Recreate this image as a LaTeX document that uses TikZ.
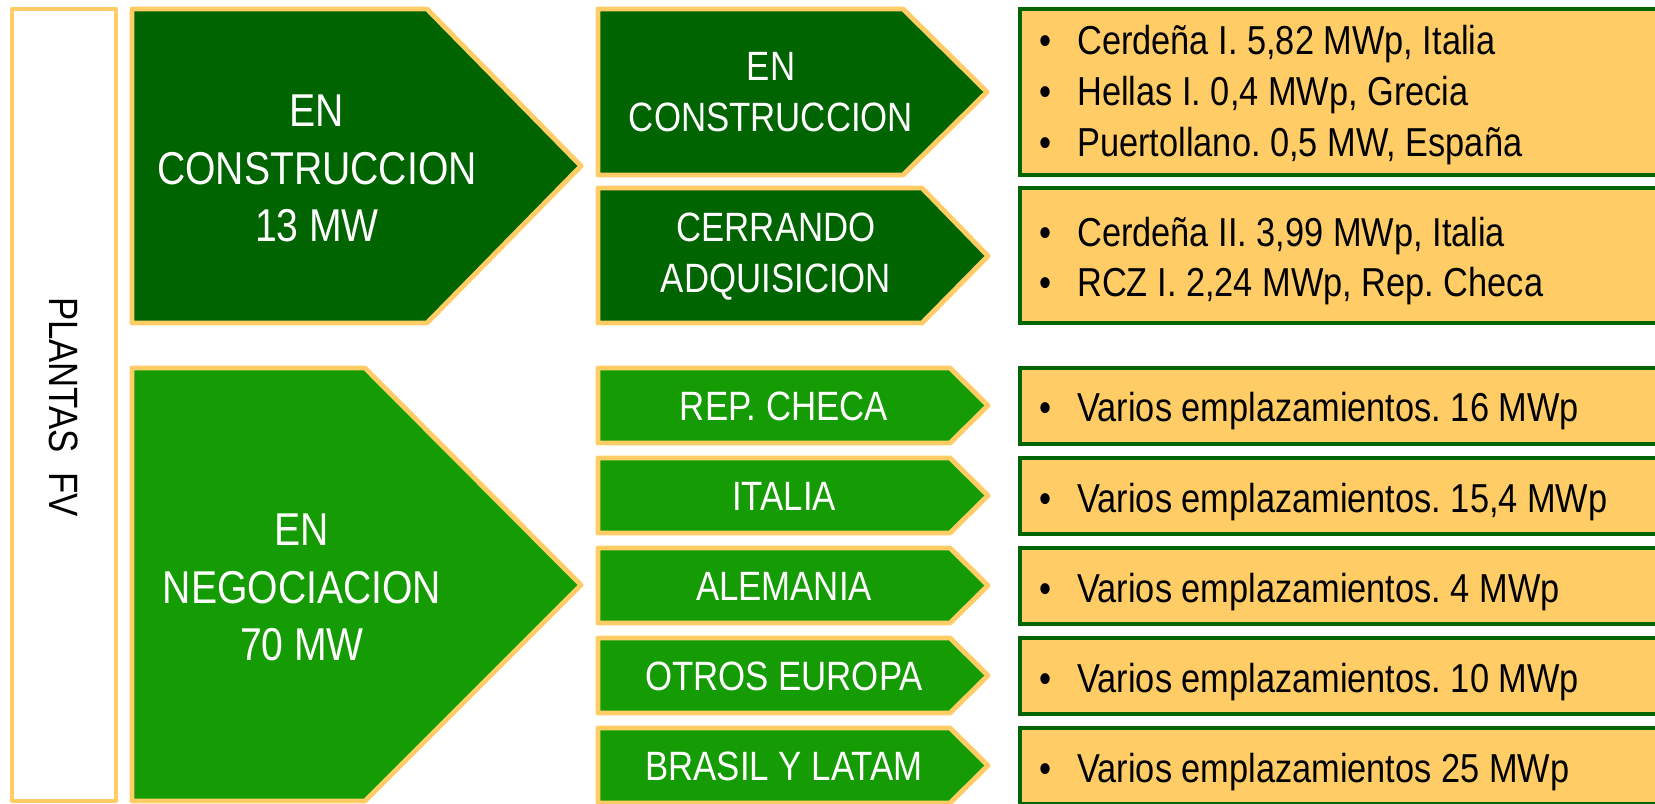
\documentclass[tikz,border=0pt]{standalone}
\usepackage{fontspec}
\setmainfont[FakeStretch=0.85]{Liberation Sans}
\definecolor{darkgreen}{RGB}{0,100,0}
\definecolor{leafgreen}{RGB}{21,156,4}
\definecolor{sand}{RGB}{255,204,102}
\newcommand{\itm}{\makebox[7.6mm][l]{\textbullet}}
\frenchspacing

\begin{document}
\begin{tikzpicture}[x=0.2mm,y=-0.2mm,
    rim/.style={draw=sand,line width=2.8pt,line join=round},
    listbox/.style={fill=sand,draw=darkgreen,line width=2.8pt},
    bigtxt/.style={text=white,align=center,inner sep=0pt,font=\fontsize{26.2}{32.7}\selectfont},
    smalltxt/.style={text=white,align=center,inner sep=0pt,font=\fontsize{23.3}{29}\selectfont},
    itemtxt/.style={anchor=base west,inner sep=0pt,font=\fontsize{23}{29}\selectfont}]
    \useasboundingbox (0,0) rectangle (1655,804);
    \clip (0,0) rectangle (1655,804);

    % left frame
    \draw[rim,fill=white] (12,9) rectangle (116,801);
    \node[rotate=-90,inner sep=0pt,font=\fontsize{23.3}{28}\selectfont] (plantas) at (64,407) {PLANTAS\ \ FV};

    % big arrows
    \filldraw[rim,fill=darkgreen] (132,9) -- (427,9) -- (581,166) -- (427,323) -- (132,323) -- cycle;
    \filldraw[rim,fill=leafgreen] (132,368) -- (365,368) -- (581,585) -- (365,801) -- (132,801) -- cycle;
    \node[bigtxt] (constr) at (317,168.5) {EN\\CONSTRUCCION\\13 MW};
    \node[bigtxt] (negoc) at (302,587.5) {EN\\NEGOCIACION\\70 MW};

    % small arrows, upper group
    \filldraw[rim,fill=darkgreen] (598,9) -- (903,9) -- (987,92) -- (903,175) -- (598,175) -- cycle;
    \filldraw[rim,fill=darkgreen] (598,188) -- (922,188) -- (988,256) -- (922,323) -- (598,323) -- cycle;
    \node[smalltxt] (obra) at (771,92.5) {EN\\CONSTRUCCION};
    \node[smalltxt] (cierre) at (776,257) {CERRANDO\\ADQUISICION};

    % small arrows, lower group
    \foreach \y/\name/\txt in {368/checa/REP. CHECA, 458/italia/ITALIA, 548/alemania/ALEMANIA,
                               638/otros/OTROS EUROPA, 728/latam/BRASIL Y LATAM}
    {
      \filldraw[rim,fill=leafgreen] (598,\y) -- (950,\y) -- (988,\y+37.5) -- (950,\y+75) -- (598,\y+75) -- cycle;
      \node[smalltxt] (\name) at (784,\y+38.5) {\txt};
    }

    % lists
    \filldraw[listbox] (1020,9) rectangle (1680,175);
    \filldraw[listbox] (1020,188) rectangle (1680,323);
    \foreach \y in {368,458,548,638,728} \filldraw[listbox] (1020,\y) rectangle (1680,\y+76);

    \node[itemtxt] (l1) at (1039,55) {\itm Cerdeña I. 5,82 MWp, Italia};
    \node[itemtxt] (l2) at (1039,106) {\itm Hellas I. 0,4 MWp, Grecia};
    \node[itemtxt] (l3) at (1039,157) {\itm Puertollano. 0,5 MW, España};
    \node[itemtxt] (l4) at (1039,247) {\itm Cerdeña II. 3,99 MWp, Italia};
    \node[itemtxt] (l5) at (1039,297) {\itm RCZ I. 2,24 MWp, Rep. Checa};
    \node[itemtxt] (l6) at (1039,422) {\itm Varios emplazamientos. 16 MWp};
    \node[itemtxt] (l7) at (1039,512) {\itm Varios emplazamientos. 15,4 MWp};
    \node[itemtxt] (l8) at (1039,602) {\itm Varios emplazamientos. 4 MWp};
    \node[itemtxt] (l9) at (1039,692) {\itm Varios emplazamientos. 10 MWp};
    \node[itemtxt] (l10) at (1039,782) {\itm Varios emplazamientos 25 MWp};
\end{tikzpicture}
\end{document}
